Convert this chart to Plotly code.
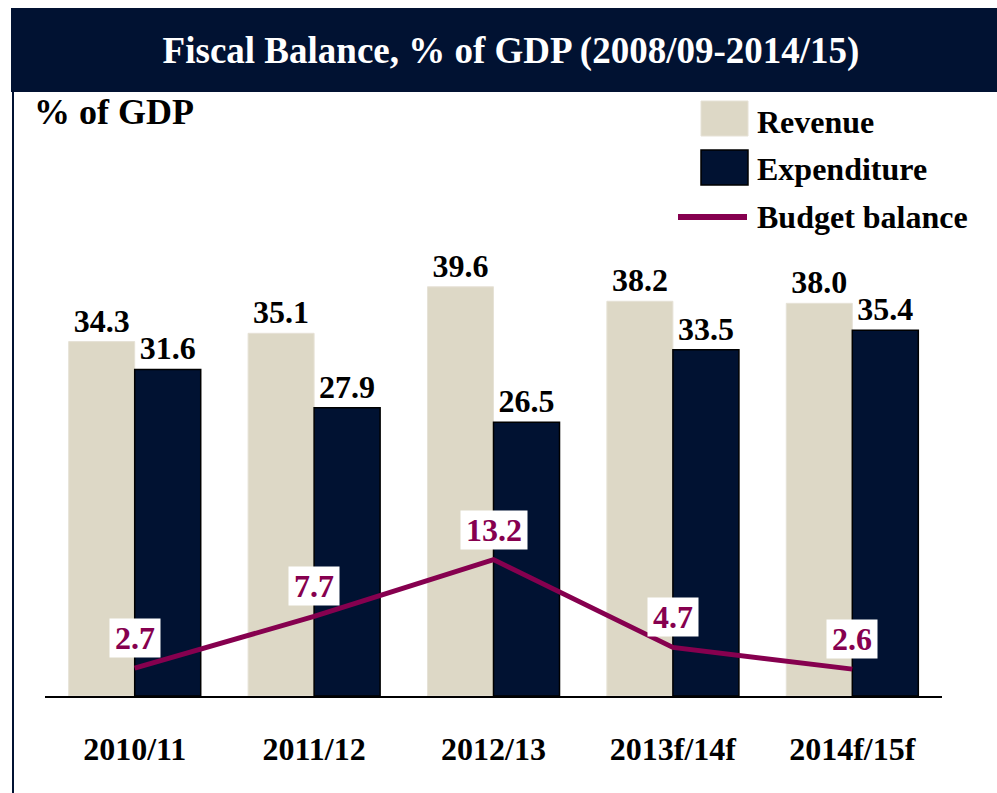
import plotly.graph_objects as go

# Fiscal data, % of GDP
years = ["2010/11", "2011/12", "2012/13", "2013f/14f", "2014f/15f"]
revenue = [34.3, 35.1, 39.6, 38.2, 38.0]
expenditure = [31.6, 27.9, 26.5, 33.5, 35.4]
budget_balance = [2.7, 7.7, 13.2, 4.7, 2.6]
series_names = ["Revenue", "Expenditure", "Budget balance"]

TITLE = "Fiscal Balance, % of GDP (2008/09-2014/15)"
Y_LABEL = "% of GDP"

NAVY = "#011232"
BEIGE = "#DDD8C6"
MAROON = "#86004F"
FONT = "Liberation Serif"
FS = 32

W, H = 997, 793
ML, MR, MT, MB = 45, 55, 231, 97
PW, PH = W - ML - MR, H - MT - MB


def fx(px):
    """Pixel x to paper x."""
    return (px - ML) / PW


def fy(py):
    """Pixel y (from top) to paper y."""
    return (H - MB - py) / PH


fig = go.Figure()

fig.add_trace(go.Bar(
    x=years, y=revenue, name=series_names[0],
    marker=dict(color=BEIGE, line=dict(color="#E6E2D6", width=1)),
    text=[f"{v:.1f}" for v in revenue], textposition="outside",
    textfont=dict(family=FONT, size=FS, color="black", weight="bold"),
    constraintext="none", cliponaxis=False, showlegend=False,
))
fig.add_trace(go.Bar(
    x=years, y=expenditure, name=series_names[1],
    marker=dict(color=NAVY, line=dict(color="black", width=1.5)),
    text=[f"{v:.1f}" for v in expenditure], textposition="outside",
    textfont=dict(family=FONT, size=FS, color="black", weight="bold"),
    constraintext="none", cliponaxis=False, showlegend=False,
))
fig.add_trace(go.Scatter(
    x=years, y=budget_balance, name=series_names[2], mode="lines",
    line=dict(color=MAROON, width=5), showlegend=False, cliponaxis=False,
))

annotations = []
# boxed labels above the budget balance line
for yr, v in zip(years, budget_balance):
    label = f"{v:.1f}"
    annotations.append(dict(
        x=yr, y=v, xref="x", yref="y", text=label, showarrow=False,
        yshift=30, yanchor="middle", xanchor="center",
        bgcolor="white", borderpad=1, width=16 * len(label), height=36,
        font=dict(family=FONT, size=FS, color=MAROON, weight="bold"),
    ))

# axis unit label
annotations.append(dict(
    x=fx(32), y=fy(112), xref="paper", yref="paper", text=Y_LABEL,
    showarrow=False, xanchor="left", yanchor="middle",
    font=dict(family=FONT, size=36, color="black", weight="bold"),
))

# legend entries
legend_y = [122, 169, 217]
for name, ly in zip(series_names, legend_y):
    annotations.append(dict(
        x=fx(755), y=fy(ly), xref="paper", yref="paper", text=name,
        showarrow=False, xanchor="left", yanchor="middle",
        font=dict(family=FONT, size=FS, color="black", weight="bold"),
    ))

shapes = [
    # title band
    dict(type="rect", xref="paper", yref="paper",
         x0=fx(11), x1=fx(997), y0=fy(92), y1=fy(8),
         fillcolor=NAVY, line=dict(width=0), layer="below"),
    # left frame rule
    dict(type="line", xref="paper", yref="paper",
         x0=fx(13), x1=fx(13), y0=fy(92), y1=fy(793),
         line=dict(color=NAVY, width=2)),
    # legend swatches
    dict(type="rect", xref="paper", yref="paper",
         x0=fx(701), x1=fx(748), y0=fy(136), y1=fy(101),
         fillcolor=BEIGE, line=dict(color="#E6E2D6", width=1)),
    dict(type="rect", xref="paper", yref="paper",
         x0=fx(701), x1=fx(748), y0=fy(185), y1=fy(150),
         fillcolor=NAVY, line=dict(color="black", width=1.5)),
    dict(type="line", xref="paper", yref="paper",
         x0=fx(678), x1=fx(747), y0=fy(217), y1=fy(217),
         line=dict(color=MAROON, width=6)),
]

fig.update_layout(
    width=W, height=H,
    margin=dict(l=ML, r=MR, t=MT, b=MB, pad=0),
    paper_bgcolor="white", plot_bgcolor="white",
    barmode="group", bargap=0.264, bargroupgap=0,
    title=dict(text=TITLE, x=511 / W, xref="container", xanchor="center",
               y=1 - 50 / H, yref="container", yanchor="middle",
               font=dict(family=FONT, size=37, color="white", weight="bold")),
    xaxis=dict(
        range=[-0.5, 4.5], showline=True, linecolor="black", linewidth=2,
        showgrid=False, zeroline=False, ticks="outside", ticklen=24,
        tickcolor="rgba(0,0,0,0)",
        tickfont=dict(family=FONT, size=FS, color="black", weight="bold"),
    ),
    yaxis=dict(range=[0, 45], visible=False, showgrid=False, zeroline=False),
    annotations=annotations,
    shapes=shapes,
)

fig.write_html("out.html")
